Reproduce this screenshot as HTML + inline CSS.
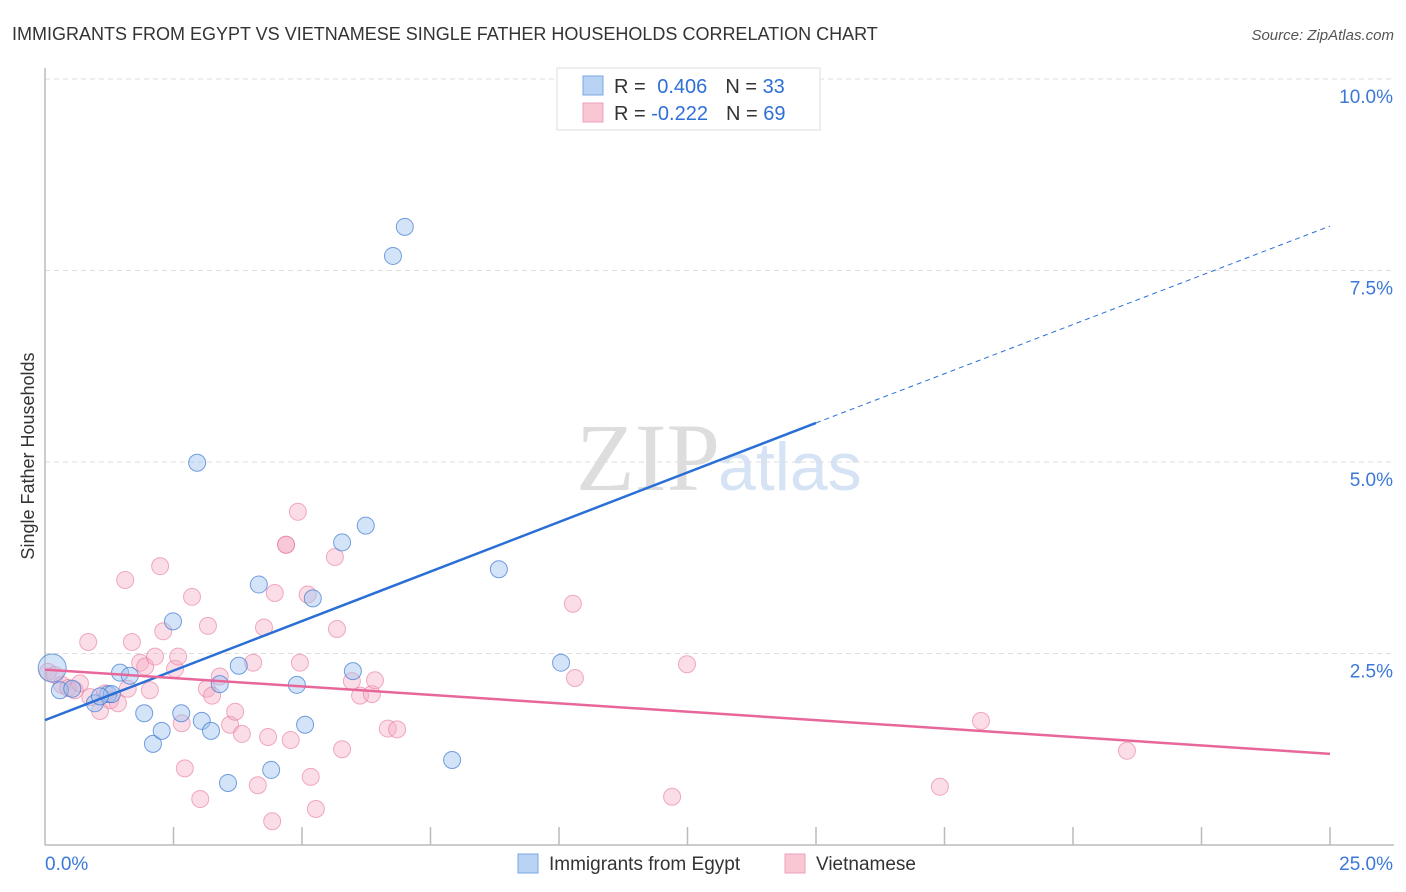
<!DOCTYPE html>
<html><head><meta charset="utf-8"><style>
body{margin:0;background:#fff;font-family:"Liberation Sans",sans-serif;}
#wrap{position:relative;width:1406px;height:892px;overflow:hidden;}
</style></head><body>
<div id="wrap">
<svg id="chart" width="1406" height="892" xmlns="http://www.w3.org/2000/svg">
<text x="12" y="40" font-size="18" fill="#333">IMMIGRANTS FROM EGYPT VS VIETNAMESE SINGLE FATHER HOUSEHOLDS CORRELATION CHART</text>
<text x="1394" y="40" font-size="15" fill="#555" font-style="italic" text-anchor="end">Source: ZipAtlas.com</text>
<text x="720" y="490" font-size="96" fill="#ddd" font-family="Liberation Serif,serif" text-anchor="end">ZIP</text>
<text x="718" y="490" font-size="68" fill="#d5e3f5">atlas</text>
<text transform="translate(34,456) rotate(-90)" font-size="18" fill="#333" text-anchor="middle">Single Father Households</text>
<g id="grid"></g><g id="axes"></g><g id="points"></g><g id="trends"></g>
<g>
<rect x="557" y="68" width="263" height="62" fill="#fff" stroke="#ddd"/>
<rect x="583" y="76" width="20" height="19" fill="#b9d3f5" stroke="#7aa7e6"/>
<rect x="583" y="103" width="20" height="19" fill="#f9c6d4" stroke="#eea0b8"/>
<text x="614" y="93" font-size="20" fill="#333">R = <tspan fill="#2f6fd6" dx="6">0.406</tspan><tspan fill="#333" dx="18">N = </tspan><tspan fill="#2f6fd6">33</tspan></text>
<text x="614" y="120" font-size="20" fill="#333">R = <tspan fill="#2f6fd6">-0.222</tspan><tspan fill="#333" dx="18">N = </tspan><tspan fill="#2f6fd6">69</tspan></text>
</g>
<g>
<rect x="518" y="854" width="20" height="19" fill="#b9d3f5" stroke="#7aa7e6"/>
<text x="549" y="870" font-size="19" fill="#333">Immigrants from Egypt</text>
<rect x="785" y="854" width="20" height="19" fill="#f9c6d4" stroke="#eea0b8"/>
<text x="816" y="870" font-size="19" fill="#333">Vietnamese</text>
</g>
</svg>
</div>
<script>
const yTicks=[2.5,5.0,7.5,10.0];
const xTickVals=[2.5,5,7.5,10,12.5,15,17.5,20,22.5,25];
const egyptX=[0.14,0.29,0.53,0.97,1.23,1.46,1.65,1.93,2.1,2.27,2.49,2.65,2.96,3.05,3.23,3.4,3.56,3.77,4.16,4.4,4.9,5.06,5.21,5.78,5.99,6.24,6.77,7.0,7.92,8.83,10.04,1.3,1.07];
const egyptY=[2.31,2.02,2.04,1.85,1.97,2.25,2.21,1.72,1.32,1.49,2.92,1.72,4.99,1.62,1.49,2.10,0.81,2.34,3.40,0.98,2.09,1.57,3.22,3.95,2.27,4.17,7.69,8.07,1.11,3.60,2.38,1.97,1.94];
const vietX=[0.06,0.19,0.33,0.45,0.58,0.68,0.84,0.88,1.07,1.17,1.27,1.42,1.56,1.61,1.69,1.85,1.95,2.04,2.14,2.24,2.3,2.53,2.59,2.66,2.72,2.86,3.02,3.15,3.17,3.25,3.4,3.6,3.7,3.83,4.05,4.14,4.26,4.34,4.42,4.47,4.69,4.78,4.96,5.11,5.17,5.27,5.64,5.68,5.78,5.97,6.13,6.36,6.42,6.67,6.85,10.27,10.31,12.2,12.49,17.41,18.21,21.05,4.92,4.69];
const vietY=[2.26,2.22,2.09,2.05,2.02,2.11,2.65,1.93,1.75,1.98,1.89,1.85,3.46,2.04,2.65,2.38,2.33,2.02,2.46,3.64,2.79,2.30,2.46,1.59,1.00,3.24,0.60,2.04,2.86,1.95,2.20,1.57,1.74,1.45,2.38,0.78,2.84,1.41,0.31,3.29,3.92,1.37,2.38,3.27,0.89,0.47,3.76,2.82,1.25,2.14,1.95,1.97,2.15,1.52,1.51,3.15,2.18,0.63,2.36,0.76,1.62,1.23,4.35,3.92];
const egyptTrend=[0,1.63,15,5.51];const egyptTrendExt=[15,5.51,25,8.08];
const vietTrend=[0,2.29,25,1.19];
const NS="http://www.w3.org/2000/svg";
const X0=45,X1=1330,Y0=845,Y1=79;
function sx(v){return X0+v/25*(X1-X0);}
function sy(v){return Y0-v/10*(Y0-Y1);}
function mk(tag,attrs,parent){const e=document.createElementNS(NS,tag);for(const k in attrs)e.setAttribute(k,attrs[k]);parent.appendChild(e);return e;}
const grid=document.getElementById('grid'),axes=document.getElementById('axes'),pts=document.getElementById('points'),tr=document.getElementById('trends');
yTicks.forEach(t=>{
 const l=mk('line',{x1:X0,x2:1394,y1:sy(t),y2:sy(t),stroke:'#ddd','stroke-dasharray':'5,4'},grid);
 
 
 const tx=mk('text',{x:1393,y:sy(t)+24,'font-size':19,fill:'#3b78d8','text-anchor':'end'},axes);
 tx.textContent=t.toFixed(1)+'%';
 
 
});
const ax=mk('line',{x1:X0,x2:1394,y1:Y0,y2:Y0,stroke:'#bbb','stroke-width':1.5},axes);


const ay=mk('line',{x1:X0,x2:X0,y1:68,y2:Y0,stroke:'#bbb','stroke-width':1.5},axes);


xTickVals.forEach(t=>{
 const l=mk('line',{x1:sx(t),x2:sx(t),y1:Y0-18,y2:Y0,stroke:'#bbb','stroke-width':1.5},axes);
 
 
});
const xl0=mk('text',{x:45,y:870,'font-size':19,fill:'#3b78d8'},axes);xl0.textContent='0.0%';


const xl1=mk('text',{x:1393,y:870,'font-size':19,fill:'#3b78d8','text-anchor':'end'},axes);xl1.textContent='25.0%';


vietX.forEach((v,i)=>{
 const c=mk('circle',{cx:sx(v),cy:sy(vietY[i]),r:8.5,fill:'rgba(246,170,195,0.4)',stroke:'rgba(232,120,155,0.6)','stroke-width':1},pts);
 
 
});
egyptX.forEach((v,i)=>{
 const c=mk('circle',{cx:sx(v),cy:sy(egyptY[i]),r:i===0?14:8.5,fill:'rgba(160,195,240,0.45)',stroke:'rgba(60,120,210,0.7)','stroke-width':1},pts);
 
 
});
const l1=mk('line',{x1:sx(egyptTrend[0]),y1:sy(egyptTrend[1]),x2:sx(egyptTrend[2]),y2:sy(egyptTrend[3]),stroke:'#2a6fd6','stroke-width':2.5},tr);


const l2=mk('line',{x1:sx(egyptTrendExt[0]),y1:sy(egyptTrendExt[1]),x2:sx(egyptTrendExt[2]),y2:sy(egyptTrendExt[3]),stroke:'#2a6fd6','stroke-width':1,'stroke-dasharray':'5,4'},tr);


const l3=mk('line',{x1:sx(vietTrend[0]),y1:sy(vietTrend[1]),x2:sx(vietTrend[2]),y2:sy(vietTrend[3]),stroke:'#e8679a','stroke-width':2.5},tr);


</script>
</body></html>
